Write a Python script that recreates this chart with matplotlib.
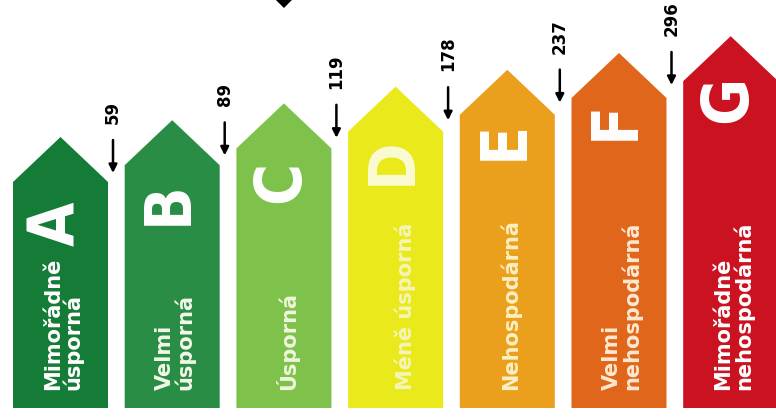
import matplotlib

matplotlib.use("Agg")
import matplotlib.pyplot as plt
from matplotlib.patches import Polygon

# energy classes, their Czech descriptions and class boundaries
classes = ["A", "B", "C", "D", "E", "F", "G"]
descriptions = [
    "Mimořádně\núsporná",
    "Velmi\núsporná",
    "Úsporná",
    "Méně úsporná",
    "Nehospodárná",
    "Velmi\nnehospodárná",
    "Mimořádně\nnehospodárná",
]
thresholds = [59, 89, 119, 178, 237, 296]
rating = "C"

bar_colors = ["#147c37", "#2a8d46", "#7ec24b", "#eae91c", "#eaa01c", "#df661a", "#ca1221"]
letter_colors = ["white", "white", "white", "#fbfbd2", "white", "white", "white"]
text_colors = ["white", "#f2f8e8", "#eef6dc", "#f5f5b8", "#fdefc0", "#fde8d0", "white"]

W, H = 776, 417
fig = plt.figure(figsize=(W / 100, H / 100), dpi=100)
ax = fig.add_axes([0, 0, 1, 1])
ax.set_xlim(0, W)
ax.set_ylim(H, 0)
ax.axis("off")

step = 111.7
width = 95
bottom = 408

for i, (cls, desc) in enumerate(zip(classes, descriptions)):
    x0 = 13 + step * i
    xc = x0 + width / 2
    peak = 137 - 16.8 * i
    shoulder = peak + 45
    pts = [(x0, bottom), (x0, shoulder), (xc, peak), (x0 + width, shoulder), (x0 + width, bottom)]
    ax.add_patch(Polygon(pts, closed=True, facecolor=bar_colors[i], edgecolor="none"))

    ax.text(xc - 3, peak + 87 - 4 * i, cls, rotation=90, ha="center", va="center",
            fontsize=46, fontweight="bold", fontstretch="condensed", color=letter_colors[i])

    dx = 10 if cls == "D" else 3
    ax.text(xc + dx, 390, desc, rotation=90, rotation_mode="anchor", ha="left", va="center",
            multialignment="left", fontsize=15, fontweight="bold", linespacing=0.95,
            color=text_colors[i])

for i, val in enumerate(thresholds):
    xa = 13 + step * i + 100
    tip = 173 - 17.6 * i
    ax.annotate("", xy=(xa, tip), xytext=(xa, tip - 33),
                arrowprops=dict(arrowstyle="-|>", color="black", lw=1.8,
                                mutation_scale=12, shrinkA=0, shrinkB=0))
    ax.text(xa, tip - 49, str(val), rotation=90, ha="center", va="bottom",
            fontsize=12, fontweight="bold", color="black")

# pointer marking the rated class
r = classes.index(rating)
xr = 13 + step * r + width / 2
ax.add_patch(Polygon([(xr - 11, -3), (xr, 8), (xr + 11, -3)], closed=True,
                     facecolor="black", edgecolor="none"))

fig.savefig("out.png", dpi=100)
